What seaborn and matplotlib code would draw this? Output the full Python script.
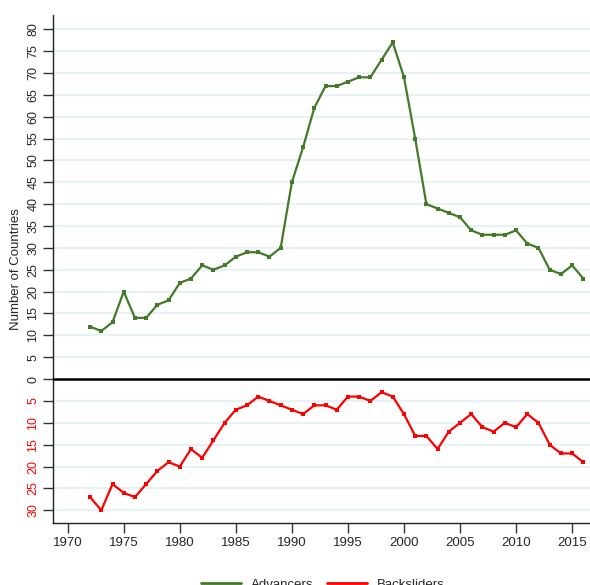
import seaborn as sns
import matplotlib.pyplot as plt
from matplotlib.lines import Line2D
import pandas as pd

# datos
anios = list(range(1972, 2017))
advancers = [12, 11, 13, 20, 14, 14, 17, 18, 22, 23, 26, 25, 26, 28, 29, 29, 28, 30,
             45, 53, 62, 67, 67, 68, 69, 69, 73, 77, 69, 55, 40, 39, 38, 37, 34, 33,
             33, 33, 34, 31, 30, 25, 24, 26, 23]
backsliders = [27, 30, 24, 26, 27, 24, 21, 19, 20, 16, 18, 14, 10, 7, 6, 4, 5, 6,
               7, 8, 6, 6, 7, 4, 4, 5, 3, 4, 8, 13, 13, 16, 12, 10, 8, 11, 12, 10,
               11, 8, 10, 15, 17, 17, 19]
ticks_arriba = [0, 5, 10, 15, 20, 25, 30, 35, 40, 45, 50, 55, 60, 65, 70, 75, 80]
ticks_abajo = [5, 10, 15, 20, 25, 30]
ticks_x = [1970, 1975, 1980, 1985, 1990, 1995, 2000, 2005, 2010, 2015]

df = pd.DataFrame({"year": anios, "adv": advancers,
                   "back": [-b for b in backsliders]})

sns.set_style("white")
plt.rcParams["font.family"] = ["Liberation Sans", "DejaVu Sans"]

verde = "#437a28"
rojo = "#ff0000"

fig = plt.figure(figsize=(5.9, 5.85), dpi=100)
ax = fig.add_axes([0.09, 0.106, 0.912, 0.868])

# lineas de la grilla
for v in ticks_arriba[1:]:
    ax.axhline(v, color="#e8f1f4", lw=1.6, zorder=0)
for v in ticks_abajo:
    ax.axhline(-v, color="#e8f1f4", lw=1.6, zorder=0)
ax.axhline(0, color="black", lw=1.8, zorder=3)

sns.lineplot(data=df, x="year", y="adv", color=verde, lw=1.6, marker="s",
             markersize=2.2, markeredgewidth=0, ax=ax, zorder=4)
sns.lineplot(data=df, x="year", y="back", color=rojo, lw=1.6, marker="s",
             markersize=2.2, markeredgewidth=0, ax=ax, zorder=4)

ax.set_xlim(1968.7, 2016.7)
ax.set_ylim(-32.9, 83.2)

ax.set_xticks(ticks_x)
ax.set_xticklabels([str(t) for t in ticks_x], fontsize=9.5)
pos_y = ticks_arriba + [-t for t in ticks_abajo]
lab_y = [str(t) for t in ticks_arriba] + [str(t) for t in ticks_abajo]
ax.set_yticks(pos_y)
ax.set_yticklabels(lab_y, fontsize=9, rotation=90, va="center")
ax.tick_params(axis="both", direction="out", length=7, width=1, color="#333333",
               pad=3, left=True, bottom=True)
for lbl, tk, v in zip(ax.get_yticklabels(), ax.yaxis.get_major_ticks(), pos_y):
    if v < 0:
        lbl.set_color(rojo)
        tk.tick1line.set_color(rojo)

ax.set_xlabel("")
ax.set_ylabel("Number of Countries", fontsize=9.5, labelpad=4)

for s in ["top", "right"]:
    ax.spines[s].set_visible(False)
for s in ["left", "bottom"]:
    ax.spines[s].set_color("#222222")
    ax.spines[s].set_linewidth(1)

# leyenda abajo (solo lineas)
h = [Line2D([], [], color=verde, lw=2), Line2D([], [], color=rojo, lw=2)]
fig.legend(h, ["Advancers", "Backsliders"], loc="upper center",
           bbox_to_anchor=(0.547, 0.031), ncol=2, frameon=False, fontsize=9.5,
           handlelength=3, handletextpad=0.75, columnspacing=1.05)

plt.savefig("out.png", dpi=100)
